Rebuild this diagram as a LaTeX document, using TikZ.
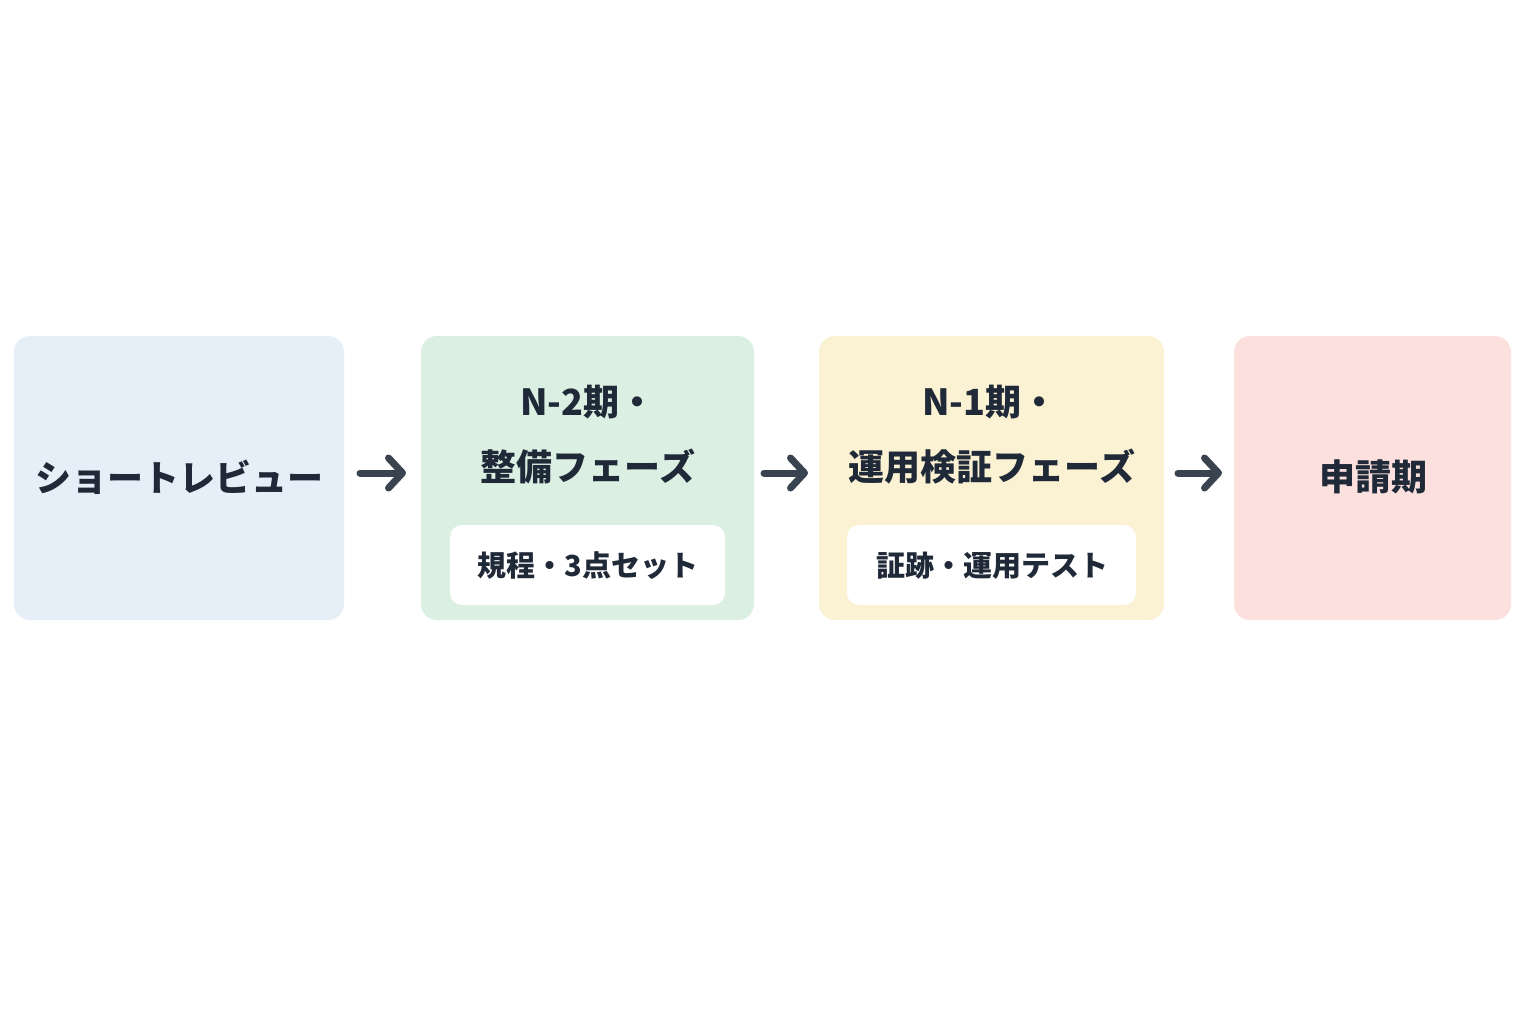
\documentclass[tikz,border=0pt]{standalone}
\usepackage{fontspec}
\newfontfamily\cjk{Noto Sans CJK JP}
\usetikzlibrary{arrows.meta}
\definecolor{txt}{HTML}{1F2937}
\definecolor{arr}{HTML}{3A4350}
\definecolor{cb}{HTML}{E6EEF8}
\definecolor{cg}{HTML}{DCEFE3}
\definecolor{cy}{HTML}{FBF1D3}
\definecolor{cp}{HTML}{FBE0DE}
\begin{document}
\begin{tikzpicture}[x=1pt,y=-1pt,
  box/.style={rounded corners=16pt,draw=none,inner sep=0pt},
  big/.style={font=\cjk\bfseries\fontsize{36}{40}\selectfont,text=txt},
  small/.style={font=\cjk\bfseries\fontsize{29}{32}\selectfont,text=txt},
  con/.style={draw=arr,line width=7pt,line cap=round,-{Straight Barb[length=14pt,width=30pt,line cap=round,line join=round]}}]
\useasboundingbox (0,0) rectangle (1536,1024);
\fill[white] (0,0) rectangle (1536,1024);
\fill[cb,rounded corners=16pt] (14,336) rectangle (344,620);
\fill[cg,rounded corners=16pt] (421,336) rectangle (754,620);
\fill[cy,rounded corners=16pt] (819,336) rectangle (1164,620);
\fill[cp,rounded corners=16pt] (1234,336) rectangle (1511,620);
\coordinate (b1e) at (344,473); \coordinate (b2w) at (421,473);
\coordinate (b2e) at (754,473); \coordinate (b3w) at (819,473);
\coordinate (b3e) at (1164,473); \coordinate (b4w) at (1234,473);
\fill[white,rounded corners=12pt] (450,525) rectangle (725,605);
\fill[white,rounded corners=12pt] (847,525) rectangle (1136,605);
\node[big] (t1) at (179,477) {ショートレビュー};
\node[big] (t2a) at (588,402) {N-2期・};
\node[big] (t2b) at (588,467) {整備フェーズ};
\node[small] (t2c) at (588,566) {規程・3点セット};
\node[big] (t3a) at (990,402) {N-1期・};
\node[big] (t3b) at (992,467) {運用検証フェーズ};
\node[small] (t3c) at (992,566) {証跡・運用テスト};
\node[big] (t4) at (1373,477) {申請期};
\draw[con,shorten <=16pt,shorten >=15pt] (b1e) -- (b2w);
\draw[con,shorten <=10pt,shorten >=11pt] (b2e) -- (b3w);
\draw[con,shorten <=14pt,shorten >=12pt] (b3e) -- (b4w);
\end{tikzpicture}
\end{document}
